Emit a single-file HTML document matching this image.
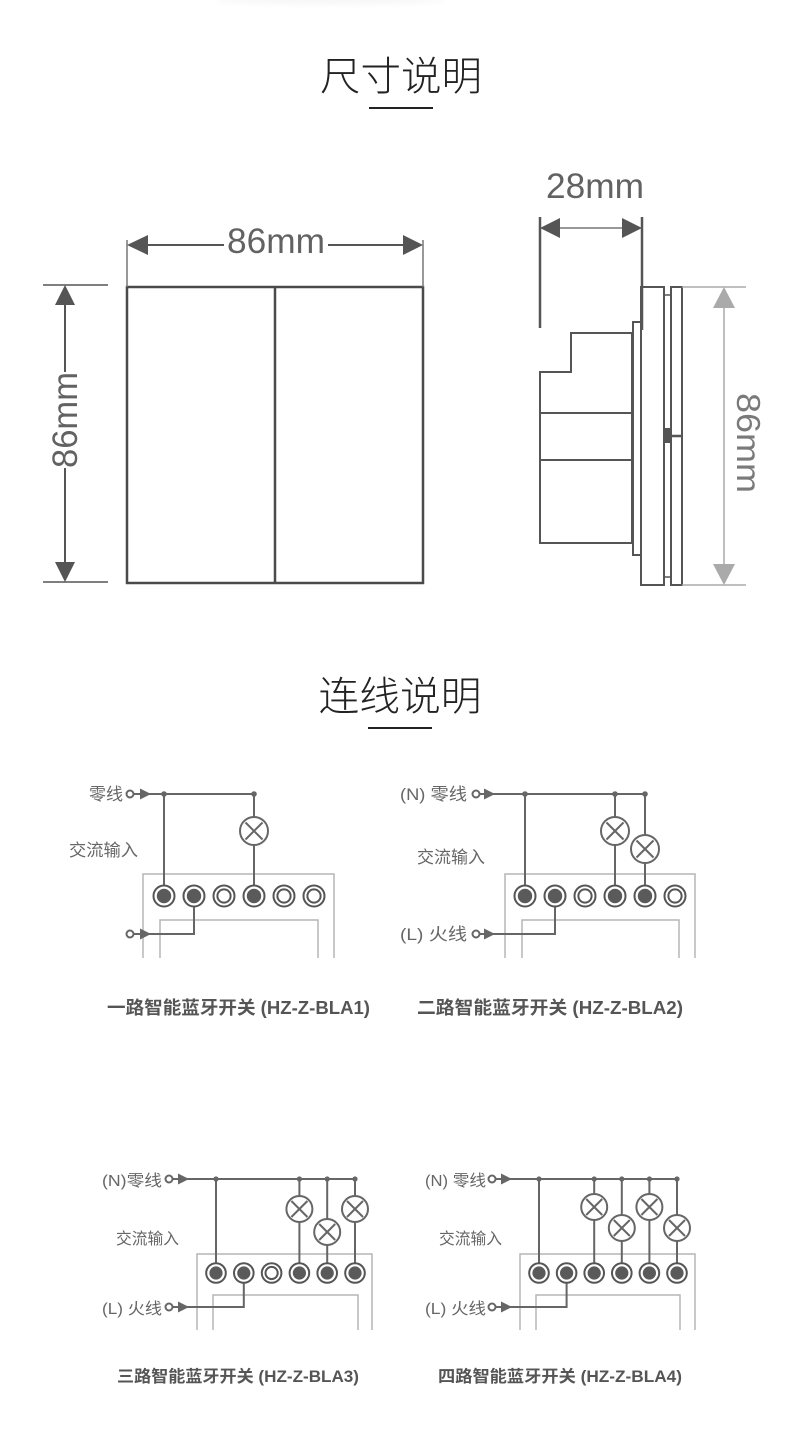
<!DOCTYPE html>
<html>
<head>
<meta charset="utf-8">
<style>
html,body{margin:0;padding:0;background:#fff;}
svg{display:block;}
.t{font-family:"Liberation Sans","Noto Sans CJK SC",sans-serif;}
.cjk{font-family:"Liberation Sans","Noto Sans CJK SC",sans-serif;}
</style>
</head>
<body>
<svg width="800" height="1437" viewBox="0 0 800 1437" xmlns="http://www.w3.org/2000/svg">
<defs>
  <filter id="blur" x="-50%" y="-50%" width="200%" height="200%"><feGaussianBlur stdDeviation="3"/></filter>
  <g id="tf">
    <circle cx="0" cy="0" r="10.5" fill="#fff" stroke="#555" stroke-width="2"/>
    <circle cx="0" cy="0" r="7.2" fill="#5a5a5a"/>
  </g>
  <g id="te">
    <circle cx="0" cy="0" r="10.5" fill="#fff" stroke="#555" stroke-width="2"/>
    <circle cx="0" cy="0" r="6.6" fill="#fff" stroke="#555" stroke-width="2"/>
  </g>
  <g id="tfs">
    <circle cx="0" cy="0" r="9.8" fill="#fff" stroke="#555" stroke-width="2"/>
    <circle cx="0" cy="0" r="6.6" fill="#5a5a5a"/>
  </g>
  <g id="tes">
    <circle cx="0" cy="0" r="9.8" fill="#fff" stroke="#555" stroke-width="2"/>
    <circle cx="0" cy="0" r="6.1" fill="#fff" stroke="#555" stroke-width="2"/>
  </g>
  <g id="lamp">
    <circle cx="0" cy="0" r="14" fill="#fff" stroke="#666" stroke-width="2"/>
    <line x1="-8.5" y1="-8.5" x2="8.5" y2="8.5" stroke="#666" stroke-width="2"/>
    <line x1="-8.5" y1="8.5" x2="8.5" y2="-8.5" stroke="#666" stroke-width="2"/>
  </g>
  <g id="lamps">
    <circle cx="0" cy="0" r="13" fill="#fff" stroke="#666" stroke-width="2"/>
    <line x1="-8" y1="-8" x2="8" y2="8" stroke="#666" stroke-width="2"/>
    <line x1="-8" y1="8" x2="8" y2="-8" stroke="#666" stroke-width="2"/>
  </g>
</defs>

<!-- faint top shadow -->
<ellipse cx="330" cy="0" rx="115" ry="4" fill="#f6f6f6" filter="url(#blur)"/>

<!-- Title 1 -->
<text x="401" y="90" text-anchor="middle" class="cjk" font-size="40" font-weight="300" fill="#222" textLength="162" lengthAdjust="spacingAndGlyphs">尺寸说明</text>
<rect x="369" y="107" width="64" height="2" fill="#222"/>

<!-- Front view -->
<g stroke="#4a4a4a" fill="none">
  <rect x="127" y="287" width="296" height="296" stroke-width="2.5"/>
  <line x1="275" y1="287" x2="275" y2="583" stroke-width="2.5"/>
  <line x1="127" y1="240" x2="127" y2="287" stroke="#777" stroke-width="1.5"/>
  <line x1="423" y1="240" x2="423" y2="287" stroke="#777" stroke-width="1.5"/>
  <line x1="148" y1="245" x2="224" y2="245" stroke="#555" stroke-width="2"/>
  <line x1="328" y1="245" x2="403" y2="245" stroke="#555" stroke-width="2"/>
  <line x1="43" y1="285" x2="108" y2="285" stroke="#555" stroke-width="1.5"/>
  <line x1="43" y1="582" x2="108" y2="582" stroke="#555" stroke-width="1.5"/>
  <line x1="65" y1="305" x2="65" y2="372" stroke="#555" stroke-width="2"/>
  <line x1="65" y1="468" x2="65" y2="562" stroke="#555" stroke-width="2"/>
</g>
<polygon points="127,245 148,235 148,255" fill="#555"/>
<polygon points="423,245 403,235 403,255" fill="#555"/>
<polygon points="65,285 55,305 75,305" fill="#555"/>
<polygon points="65,582 55,562 75,562" fill="#555"/>
<text x="276" y="253" text-anchor="middle" class="t" font-size="35" fill="#626262" textLength="98" lengthAdjust="spacingAndGlyphs">86mm</text>
<text transform="translate(77,420) rotate(-90)" x="0" y="0" text-anchor="middle" class="t" font-size="35" fill="#626262" textLength="96" lengthAdjust="spacingAndGlyphs">86mm</text>

<!-- Side view -->
<text x="595" y="198" text-anchor="middle" class="t" font-size="35" fill="#626262" textLength="98" lengthAdjust="spacingAndGlyphs">28mm</text>
<g fill="none" stroke="#555">
  <line x1="540" y1="217" x2="540" y2="328" stroke-width="2.5"/>
  <line x1="642" y1="217" x2="642" y2="330" stroke-width="2.5"/>
  <line x1="560" y1="228" x2="622" y2="228" stroke="#777" stroke-width="1.5"/>
  <rect x="641" y="287" width="23" height="298" stroke-width="2"/>
  <rect x="671" y="287" width="11" height="298" stroke-width="2"/>
  <rect x="664" y="295" width="7" height="282" stroke-width="1.5"/>
  <rect x="633" y="322" width="8" height="233" stroke-width="2"/>
  <polygon points="632,333 571,333 571,372 540,372 540,543 632,543" stroke-width="2"/>
  <line x1="540" y1="413" x2="632" y2="413" stroke-width="2"/>
  <line x1="540" y1="460" x2="632" y2="460" stroke-width="2"/>
  <line x1="671" y1="436" x2="682" y2="436" stroke-width="2.5"/>
</g>
<rect x="663" y="428" width="8" height="15" fill="#555"/>
<polygon points="540,228 560,218 560,238" fill="#555"/>
<polygon points="642,228 622,218 622,238" fill="#555"/>
<g stroke="#aaa" stroke-width="1.5">
  <line x1="682" y1="287" x2="746" y2="287"/>
  <line x1="682" y1="585" x2="746" y2="585"/>
  <line x1="724" y1="305" x2="724" y2="567"/>
</g>
<polygon points="724,287 713,308 735,308" fill="#aaa"/>
<polygon points="724,585 713,564 735,564" fill="#aaa"/>
<text transform="translate(737,443) rotate(90)" x="0" y="0" text-anchor="middle" class="t" font-size="33" fill="#7a7a7a" textLength="100" lengthAdjust="spacingAndGlyphs">86mm</text>

<!-- Title 2 -->
<text x="400" y="710" text-anchor="middle" class="cjk" font-size="40" font-weight="300" fill="#222" textLength="163" lengthAdjust="spacingAndGlyphs">连线说明</text>
<rect x="368" y="727" width="64" height="2" fill="#222"/>

<!-- ========== Diagram 1 ========== -->
<g fill="none" stroke="#b5b5b5" stroke-width="1.5">
  <path d="M143,958 V874 H334 V958"/>
  <path d="M160,958 V920 H318 V958"/>
</g>
<g stroke="#666" stroke-width="2" fill="none">
  <line x1="133.5" y1="794" x2="254" y2="794"/>
  <line x1="164" y1="794" x2="164" y2="896"/>
  <line x1="254" y1="794" x2="254" y2="896"/>
  <polyline points="133.5,934 194,934 194,896"/>
</g>
<circle cx="130" cy="794" r="3.5" fill="#fff" stroke="#666" stroke-width="2"/>
<circle cx="130" cy="934" r="3.5" fill="#fff" stroke="#666" stroke-width="2"/>
<polygon points="140,788.5 151,794 140,799.5" fill="#666"/>
<polygon points="140,928.5 151,934 140,939.5" fill="#666"/>
<circle cx="164" cy="794" r="2.8" fill="#666"/>
<circle cx="254" cy="794" r="2.8" fill="#666"/>
<use href="#lamp" x="254" y="831"/>
<use href="#tf" x="164" y="896"/>
<use href="#tf" x="194" y="896"/>
<use href="#te" x="224" y="896"/>
<use href="#tf" x="254" y="896"/>
<use href="#te" x="284" y="896"/>
<use href="#te" x="314" y="896"/>
<text x="123" y="800" text-anchor="end" class="cjk" font-size="17" fill="#666">零线</text>
<text x="69" y="856" class="cjk" font-size="17" fill="#666" textLength="69" lengthAdjust="spacingAndGlyphs">交流输入</text>
<text x="107" y="1014" class="cjk" font-size="18" font-weight="bold" fill="#555" textLength="263" lengthAdjust="spacingAndGlyphs">一路智能蓝牙开关 (HZ-Z-BLA1)</text>

<!-- ========== Diagram 2 ========== -->
<g fill="none" stroke="#b5b5b5" stroke-width="1.5">
  <path d="M505,958 V874 H695 V958"/>
  <path d="M522,958 V920 H679 V958"/>
</g>
<g stroke="#666" stroke-width="2" fill="none">
  <line x1="479.5" y1="794" x2="645" y2="794"/>
  <line x1="525" y1="794" x2="525" y2="896"/>
  <line x1="615" y1="794" x2="615" y2="896"/>
  <line x1="645" y1="794" x2="645" y2="896"/>
  <polyline points="479.5,934 555,934 555,896"/>
</g>
<circle cx="476" cy="794" r="3.5" fill="#fff" stroke="#666" stroke-width="2"/>
<circle cx="476" cy="934" r="3.5" fill="#fff" stroke="#666" stroke-width="2"/>
<polygon points="484,788.5 495,794 484,799.5" fill="#666"/>
<polygon points="484,928.5 495,934 484,939.5" fill="#666"/>
<circle cx="525" cy="794" r="2.8" fill="#666"/>
<circle cx="615" cy="794" r="2.8" fill="#666"/>
<circle cx="645" cy="794" r="2.8" fill="#666"/>
<use href="#lamp" x="615" y="831"/>
<use href="#lamp" x="645" y="849"/>
<use href="#tf" x="525" y="896"/>
<use href="#tf" x="555" y="896"/>
<use href="#te" x="585" y="896"/>
<use href="#tf" x="615" y="896"/>
<use href="#tf" x="645" y="896"/>
<use href="#te" x="675" y="896"/>
<text x="467" y="800" text-anchor="end" class="cjk" font-size="17" fill="#666" textLength="67" lengthAdjust="spacingAndGlyphs">(N) 零线</text>
<text x="467" y="940" text-anchor="end" class="cjk" font-size="17" fill="#666" textLength="67" lengthAdjust="spacingAndGlyphs">(L) 火线</text>
<text x="417" y="863" class="cjk" font-size="17" fill="#666" textLength="68" lengthAdjust="spacingAndGlyphs">交流输入</text>
<text x="417" y="1014" class="cjk" font-size="18" font-weight="bold" fill="#555" textLength="266" lengthAdjust="spacingAndGlyphs">二路智能蓝牙开关 (HZ-Z-BLA2)</text>

<!-- ========== Diagram 3 ========== -->
<g fill="none" stroke="#b5b5b5" stroke-width="1.5">
  <path d="M197,1330 V1254 H372 V1330"/>
  <path d="M213,1330 V1295 H358 V1330"/>
</g>
<g stroke="#666" stroke-width="2" fill="none">
  <line x1="172.5" y1="1179" x2="355" y2="1179"/>
  <line x1="216" y1="1179" x2="216" y2="1273"/>
  <line x1="299.4" y1="1179" x2="299.4" y2="1273"/>
  <line x1="327.2" y1="1179" x2="327.2" y2="1273"/>
  <line x1="355" y1="1179" x2="355" y2="1273"/>
  <polyline points="172.5,1307 243.8,1307 243.8,1273"/>
</g>
<circle cx="169" cy="1179" r="3.5" fill="#fff" stroke="#666" stroke-width="2"/>
<circle cx="169" cy="1307" r="3.5" fill="#fff" stroke="#666" stroke-width="2"/>
<polygon points="178,1173.5 189,1179 178,1184.5" fill="#666"/>
<polygon points="178,1301.5 189,1307 178,1312.5" fill="#666"/>
<circle cx="216" cy="1179" r="2.6" fill="#666"/>
<circle cx="299.4" cy="1179" r="2.6" fill="#666"/>
<circle cx="327.2" cy="1179" r="2.6" fill="#666"/>
<circle cx="355" cy="1179" r="2.6" fill="#666"/>
<use href="#lamps" x="299.4" y="1209"/>
<use href="#lamps" x="327.2" y="1232"/>
<use href="#lamps" x="355" y="1209"/>
<use href="#tfs" x="216" y="1273"/>
<use href="#tfs" x="243.8" y="1273"/>
<use href="#tes" x="271.6" y="1273"/>
<use href="#tfs" x="299.4" y="1273"/>
<use href="#tfs" x="327.2" y="1273"/>
<use href="#tfs" x="355" y="1273"/>
<text x="162" y="1186" text-anchor="end" class="cjk" font-size="16" fill="#666" textLength="60" lengthAdjust="spacingAndGlyphs">(N)零线</text>
<text x="162" y="1314" text-anchor="end" class="cjk" font-size="16" fill="#666" textLength="60" lengthAdjust="spacingAndGlyphs">(L) 火线</text>
<text x="116" y="1244" class="cjk" font-size="16" fill="#666" textLength="63" lengthAdjust="spacingAndGlyphs">交流输入</text>
<text x="117" y="1382" class="cjk" font-size="16.5" font-weight="bold" fill="#555" textLength="242" lengthAdjust="spacingAndGlyphs">三路智能蓝牙开关 (HZ-Z-BLA3)</text>

<!-- ========== Diagram 4 ========== -->
<g fill="none" stroke="#b5b5b5" stroke-width="1.5">
  <path d="M520,1330 V1254 H695 V1330"/>
  <path d="M536,1330 V1295 H680 V1330"/>
</g>
<g stroke="#666" stroke-width="2" fill="none">
  <line x1="495.5" y1="1179" x2="677" y2="1179"/>
  <line x1="539" y1="1179" x2="539" y2="1273"/>
  <line x1="594.2" y1="1179" x2="594.2" y2="1273"/>
  <line x1="621.8" y1="1179" x2="621.8" y2="1273"/>
  <line x1="649.4" y1="1179" x2="649.4" y2="1273"/>
  <line x1="677" y1="1179" x2="677" y2="1273"/>
  <polyline points="495.5,1307 566.6,1307 566.6,1273"/>
</g>
<circle cx="492" cy="1179" r="3.5" fill="#fff" stroke="#666" stroke-width="2"/>
<circle cx="492" cy="1307" r="3.5" fill="#fff" stroke="#666" stroke-width="2"/>
<polygon points="501,1173.5 512,1179 501,1184.5" fill="#666"/>
<polygon points="501,1301.5 512,1307 501,1312.5" fill="#666"/>
<circle cx="539" cy="1179" r="2.6" fill="#666"/>
<circle cx="594.2" cy="1179" r="2.6" fill="#666"/>
<circle cx="621.8" cy="1179" r="2.6" fill="#666"/>
<circle cx="649.4" cy="1179" r="2.6" fill="#666"/>
<circle cx="677" cy="1179" r="2.6" fill="#666"/>
<use href="#lamps" x="594.2" y="1207"/>
<use href="#lamps" x="621.8" y="1228"/>
<use href="#lamps" x="649.4" y="1207"/>
<use href="#lamps" x="677" y="1228"/>
<use href="#tfs" x="539" y="1273"/>
<use href="#tfs" x="566.6" y="1273"/>
<use href="#tfs" x="594.2" y="1273"/>
<use href="#tfs" x="621.8" y="1273"/>
<use href="#tfs" x="649.4" y="1273"/>
<use href="#tfs" x="677" y="1273"/>
<text x="486" y="1186" text-anchor="end" class="cjk" font-size="16" fill="#666" textLength="61" lengthAdjust="spacingAndGlyphs">(N) 零线</text>
<text x="486" y="1314" text-anchor="end" class="cjk" font-size="16" fill="#666" textLength="61" lengthAdjust="spacingAndGlyphs">(L) 火线</text>
<text x="439" y="1244" class="cjk" font-size="16" fill="#666" textLength="63" lengthAdjust="spacingAndGlyphs">交流输入</text>
<text x="438" y="1382" class="cjk" font-size="16.5" font-weight="bold" fill="#555" textLength="244" lengthAdjust="spacingAndGlyphs">四路智能蓝牙开关 (HZ-Z-BLA4)</text>
</svg>
</body>
</html>
